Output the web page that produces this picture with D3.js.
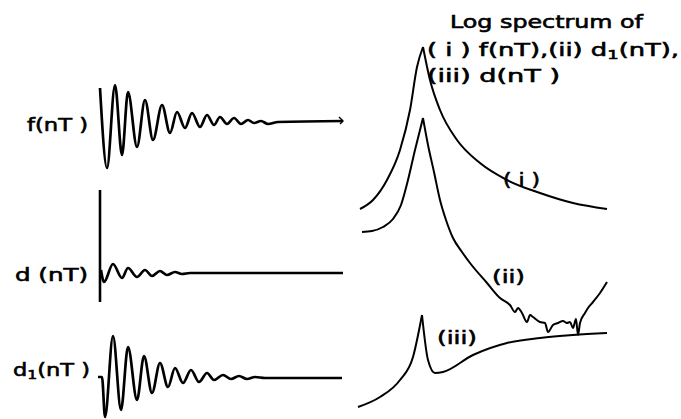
<!DOCTYPE html>
<html>
<head>
<meta charset="utf-8">
<script src="https://cdn.jsdelivr.net/npm/d3@7"></script>
<style>
  body { margin: 0; background: #fff; }
  text { font-family: "DejaVu Sans", sans-serif; fill: #000; stroke: #000; stroke-width: 0.6; }
</style>
</head>
<body>
<svg id="chart" width="681" height="419"></svg>
<script>
const WIDTH = 681;
const HEIGHT = 419;

// time-domain traces: [t, amplitude] at the peaks/troughs
const fTrace = [
  [0, 34], [7, -46], [15, 37], [22, -33], [28, 30], [37, -25], [45, 22], [53, -18],
  [62, 17], [70, -11], [77, 10], [85, -6], [92, 9], [100, -5], [107, 7], [114, -3],
  [120, 5], [127, -2], [134, 4], [141, -2], [148, 2], [154, -1], [161, 1], [168, -2],
  [178, 0], [243, 1]
];
const dSpike = [83, -29];
const dTrace = [
  [1, 3], [4, -9], [13, 9], [22, -5], [28, 5], [37, -4], [45, 3], [52, -3],
  [60, 2], [67, -2], [75, 1], [82, -1], [90, 0], [243, 0]
];
const d1Trace = [
  [-2, 1], [2, 1], [5, -39], [13, 42], [21, -32], [28, 31], [37, -22], [44, 22],
  [52, -15], [60, 15], [68, -9], [75, 10], [83, -5], [91, 8], [99, -4], [107, 5],
  [114, -2], [123, 3], [131, -1], [139, 2], [147, -1], [155, 1], [165, 0], [242, 0]
];

// log spectra: [frequency, log magnitude], rising branch and falling branch
const spec1Left = [[2, 52.75], [15, 55], [29, 60], [42, 67.5], [52, 77.5], [59, 88.25], [65, 93.25]];
const spec1Right = [[65, 93.25], [72, 85], [82, 77.5], [99, 70], [122, 64.25], [149, 60], [182, 56.75], [215, 54.25], [249, 52.75]];
const spec2Left = [[4, 47], [14, 47.25], [25, 48.25], [35, 50.25], [43, 53.75], [50, 60], [57, 67.5], [65, 75.5]];
const spec2Right = [
  [65, 75.5], [70, 68.75], [76, 62], [82, 55], [88, 50], [95, 45.5], [104, 42], [112, 39.25],
  [129, 34.25], [142, 30.5], [152, 28.75], [157, 27], [160, 28], [164, 26.75], [169, 24.5],
  [172, 26.25], [175, 25.75], [182, 24.5], [187, 24.25], [190, 22], [195, 23.75], [200, 24.25],
  [205, 24.75], [209, 24.25], [212, 24.5], [215, 23], [218, 25.25], [220, 21.25], [222, 24.25],
  [227, 26.75], [230, 28], [235, 29.5], [242, 31.75], [249, 34.5]
];
const spec3Left = [[0, 3.25], [22, 5.75], [42, 10], [55, 15.75], [64, 26.25]];
const spec3Right = [[64, 26.25], [70, 15], [77, 11.75], [85, 12], [115, 16.25], [149, 19.25], [182, 20.5], [215, 21.25], [249, 21.75]];

const svg = d3.select("#chart");

// ---- left column: time traces ----
const xTime = d3.scaleLinear().domain([0, 245]).range([100, 345]);
// one amplitude scale per trace, each centred on its own baseline
const amp = (base) => d3.scaleLinear().domain([-50, 50]).range([base + 50, base - 50]);
const yF = amp(122);
const yD = amp(273);
const yD1 = amp(378);

function drawTrace(data, y) {
  const line = d3.line()
    .x((d) => xTime(d[0]))
    .y((d) => y(d[1]))
    .curve(d3.curveMonotoneX);
  svg.append("path")
    .datum(data)
    .attr("d", line)
    .attr("fill", "none")
    .attr("stroke", "#000")
    .attr("stroke-width", 2.7)
    .attr("stroke-linejoin", "round");
}

drawTrace(fTrace, yF);
drawTrace(dTrace, yD);
drawTrace(d1Trace, yD1);

// impulse at n = 0 of d(nT)
svg.append("line")
  .attr("x1", xTime(0)).attr("x2", xTime(0))
  .attr("y1", yD(dSpike[0])).attr("y2", yD(dSpike[1]))
  .attr("stroke", "#000").attr("stroke-width", 2.6);

// small arrow tip at the end of f(nT)
const fEnd = fTrace[fTrace.length - 1];
svg.append("path")
  .attr("d", `M${xTime(fEnd[0]) - 4},${yF(fEnd[1]) - 4} L${xTime(fEnd[0])},${yF(fEnd[1])} L${xTime(fEnd[0]) - 3},${yF(fEnd[1]) + 3}`)
  .attr("fill", "none").attr("stroke", "#000").attr("stroke-width", 1.4);

// text with optional subscript parts ({ sub: "1" }); stretched to the width seen in the scan
function label(x, y, parts, size, width) {
  const t = svg.append("text").attr("x", x).attr("y", y).attr("font-size", size);
  let shift = 0;
  parts.forEach((p) => {
    if (typeof p === "object") {
      t.append("tspan").attr("font-size", size * 0.7).attr("dy", 3).text(p.sub);
      shift = -3;
    } else {
      t.append("tspan").attr("dy", shift).text(p);
      shift = 0;
    }
  });
  if (width) t.attr("textLength", width).attr("lengthAdjust", "spacingAndGlyphs");
  return t;
}

label(27, 131, ["f(nT )"], 18, 61);
label(15, 281, ["d (nT)"], 18, 73);
label(13, 376, ["d", { sub: "1" }, "(nT )"], 18, 77);

// ---- right column: log spectra ----
const xFreq = d3.scaleLinear().domain([0, 250]).range([358, 608]);
const yLog = d3.scaleLinear().domain([0, 100]).range([420, 20]);

const specLine = d3.line()
  .x((d) => xFreq(d[0]))
  .y((d) => yLog(d[1]))
  .curve(d3.curveMonotoneX);

[spec1Left, spec1Right, spec2Left, spec2Right, spec3Left, spec3Right].forEach((s) => {
  svg.append("path")
    .datum(s)
    .attr("d", specLine)
    .attr("fill", "none")
    .attr("stroke", "#000")
    .attr("stroke-width", 2)
    .attr("stroke-linejoin", "round");
});

// title block
label(450, 28, ["Log spectrum of"], 18, 193);
label(427, 56, ["( i ) f(nT),(ii) d", { sub: "1" }, "(nT),"], 18, 252);
label(427, 82, ["(iii) d(nT )"], 18, 133);

// curve tags
label(503, 186, ["( i )"], 18, 37);
label(492, 283, ["(ii)"], 18, 33);
label(437, 344, ["(iii)"], 18, 40);
</script>
</body>
</html>
